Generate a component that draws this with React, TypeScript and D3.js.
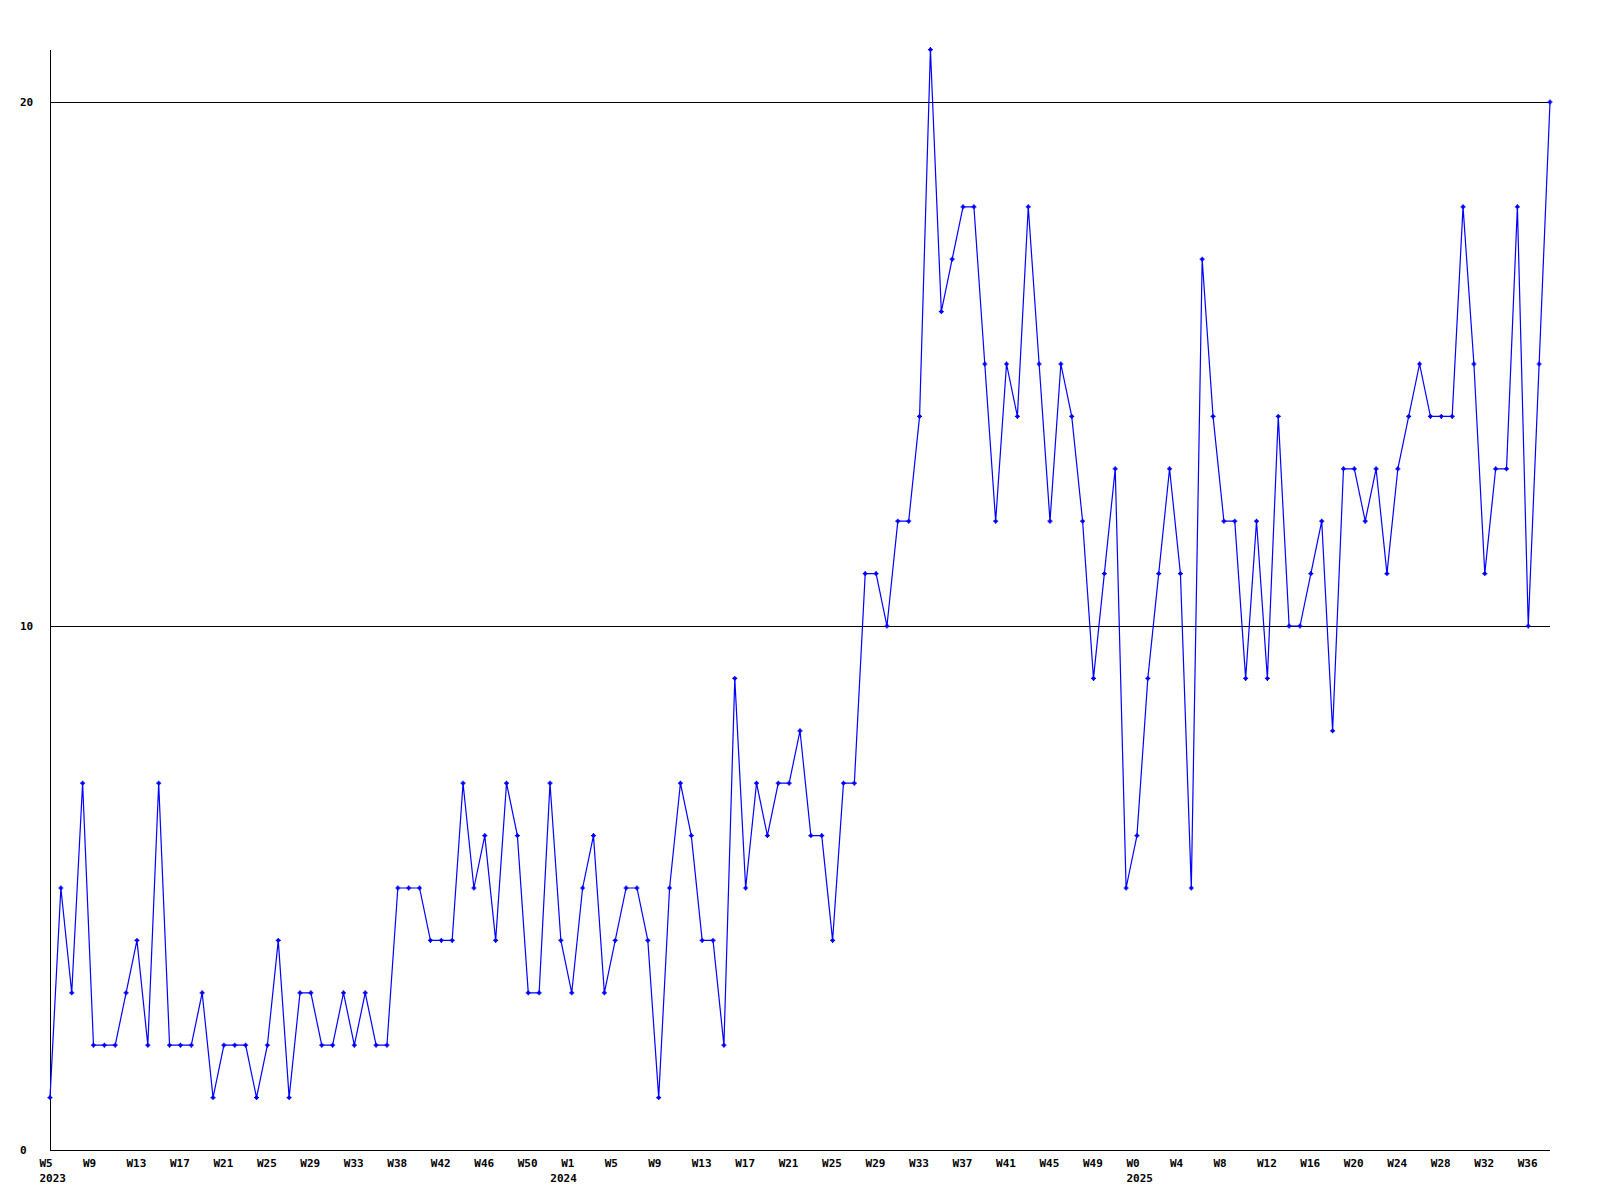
import React from "react";
import * as d3 from "d3";

const values: number[] = [
  1, 5, 3, 7, 2, 2, 2, 3, 4, 2,
  7, 2, 2, 2, 3, 1, 2, 2, 2, 1,
  2, 4, 1, 3, 3, 2, 2, 3, 2, 3,
  2, 2, 5, 5, 5, 4, 4, 4, 7, 5,
  6, 4, 7, 6, 3, 3, 7, 4, 3, 5,
  6, 3, 4, 5, 5, 4, 1, 5, 7, 6,
  4, 4, 2, 9, 5, 7, 6, 7, 7, 8,
  6, 6, 4, 7, 7, 11, 11, 10, 12, 12,
  14, 21, 16, 17, 18, 18, 15, 12, 15, 14,
  18, 15, 12, 15, 14, 12, 9, 11, 13, 5,
  6, 9, 11, 13, 11, 5, 17, 14, 12, 12,
  9, 12, 9, 14, 10, 10, 11, 12, 8, 13,
  13, 12, 13, 11, 13, 14, 15, 14, 14, 14,
  18, 15, 11, 13, 13, 18, 10, 15, 20,
];

const weekLabels: string[] = [
  "W5", "W9", "W13", "W17", "W21", "W25", "W29", "W33", "W38", "W42", "W46", "W50",
  "W1", "W5", "W9", "W13", "W17", "W21", "W25", "W29", "W33", "W37", "W41", "W45", "W49",
  "W0", "W4", "W8", "W12", "W16", "W20", "W24", "W28", "W32", "W36",
];
const weekLabelStep = 4;

const yearLabels: string[] = ["2023", "2024", "2025"];
const yearIndices: number[] = [0, 47, 100];

const yTicks: number[] = [0, 10, 20];
const gridValues: number[] = [10, 20];

export default function App() {
  const left = 50;
  const right = 1550;
  const bottom = 1150;
  const top = 50;
  const x = d3.scaleLinear().domain([0, values.length - 1]).range([left, right]);
  const y = d3.scaleLinear().domain([0, 20]).range([bottom, 102]);
  const line = d3
    .line<number>()
    .x((_, i) => x(i))
    .y((d) => y(d));
  const font = "'DejaVu Sans Mono', monospace";
  return (
    <div style={{ position: "absolute", left: 0, top: 0 }}>
      <svg width={1600} height={1200} style={{ display: "block", background: "#fff" }}>
        <rect x={0} y={0} width={1600} height={1200} fill="#fff" />
        {gridValues.map((g) => (
          <line
            key={g}
            x1={left}
            x2={right}
            y1={Math.round(y(g)) + 0.5}
            y2={Math.round(y(g)) + 0.5}
            stroke="#000"
            strokeWidth={1}
            shapeRendering="crispEdges"
          />
        ))}
        <line x1={left + 0.5} x2={left + 0.5} y1={top} y2={bottom + 1} stroke="#000" strokeWidth={1} shapeRendering="crispEdges" />
        <line x1={left} x2={right} y1={bottom + 0.5} y2={bottom + 0.5} stroke="#000" strokeWidth={1} shapeRendering="crispEdges" />
        {yTicks.map((t) => (
          <text key={t} x={20} y={y(t) + 4} fontFamily={font} fontWeight="bold" fontSize={11} fill="#000">
            {t}
          </text>
        ))}
        {weekLabels.map((lab, k) => (
          <text
            key={k}
            x={x(k * weekLabelStep) - 10.5}
            y={1167}
            fontFamily={font}
            fontWeight="bold"
            fontSize={11}
            fill="#000"
          >
            {lab}
          </text>
        ))}
        {yearLabels.map((lab, k) => (
          <text
            key={lab}
            x={x(yearIndices[k]) - 10.5}
            y={1182}
            fontFamily={font}
            fontWeight="bold"
            fontSize={11}
            fill="#000"
          >
            {lab}
          </text>
        ))}
        <path d={line(values) || ""} fill="none" stroke="#0000ff" strokeWidth={1.2} />
        {values.map((v, i) => (
          <g key={i} transform={`translate(${x(i)},${y(v)})`}>
            <path d="M-2.5,0H2.5M0,-2.5V2.5" stroke="#0000ff" strokeWidth={1.2} />
            <rect x={-1.5} y={-1.5} width={3} height={3} fill="#0000ff" />
          </g>
        ))}
      </svg>
    </div>
  );
}
